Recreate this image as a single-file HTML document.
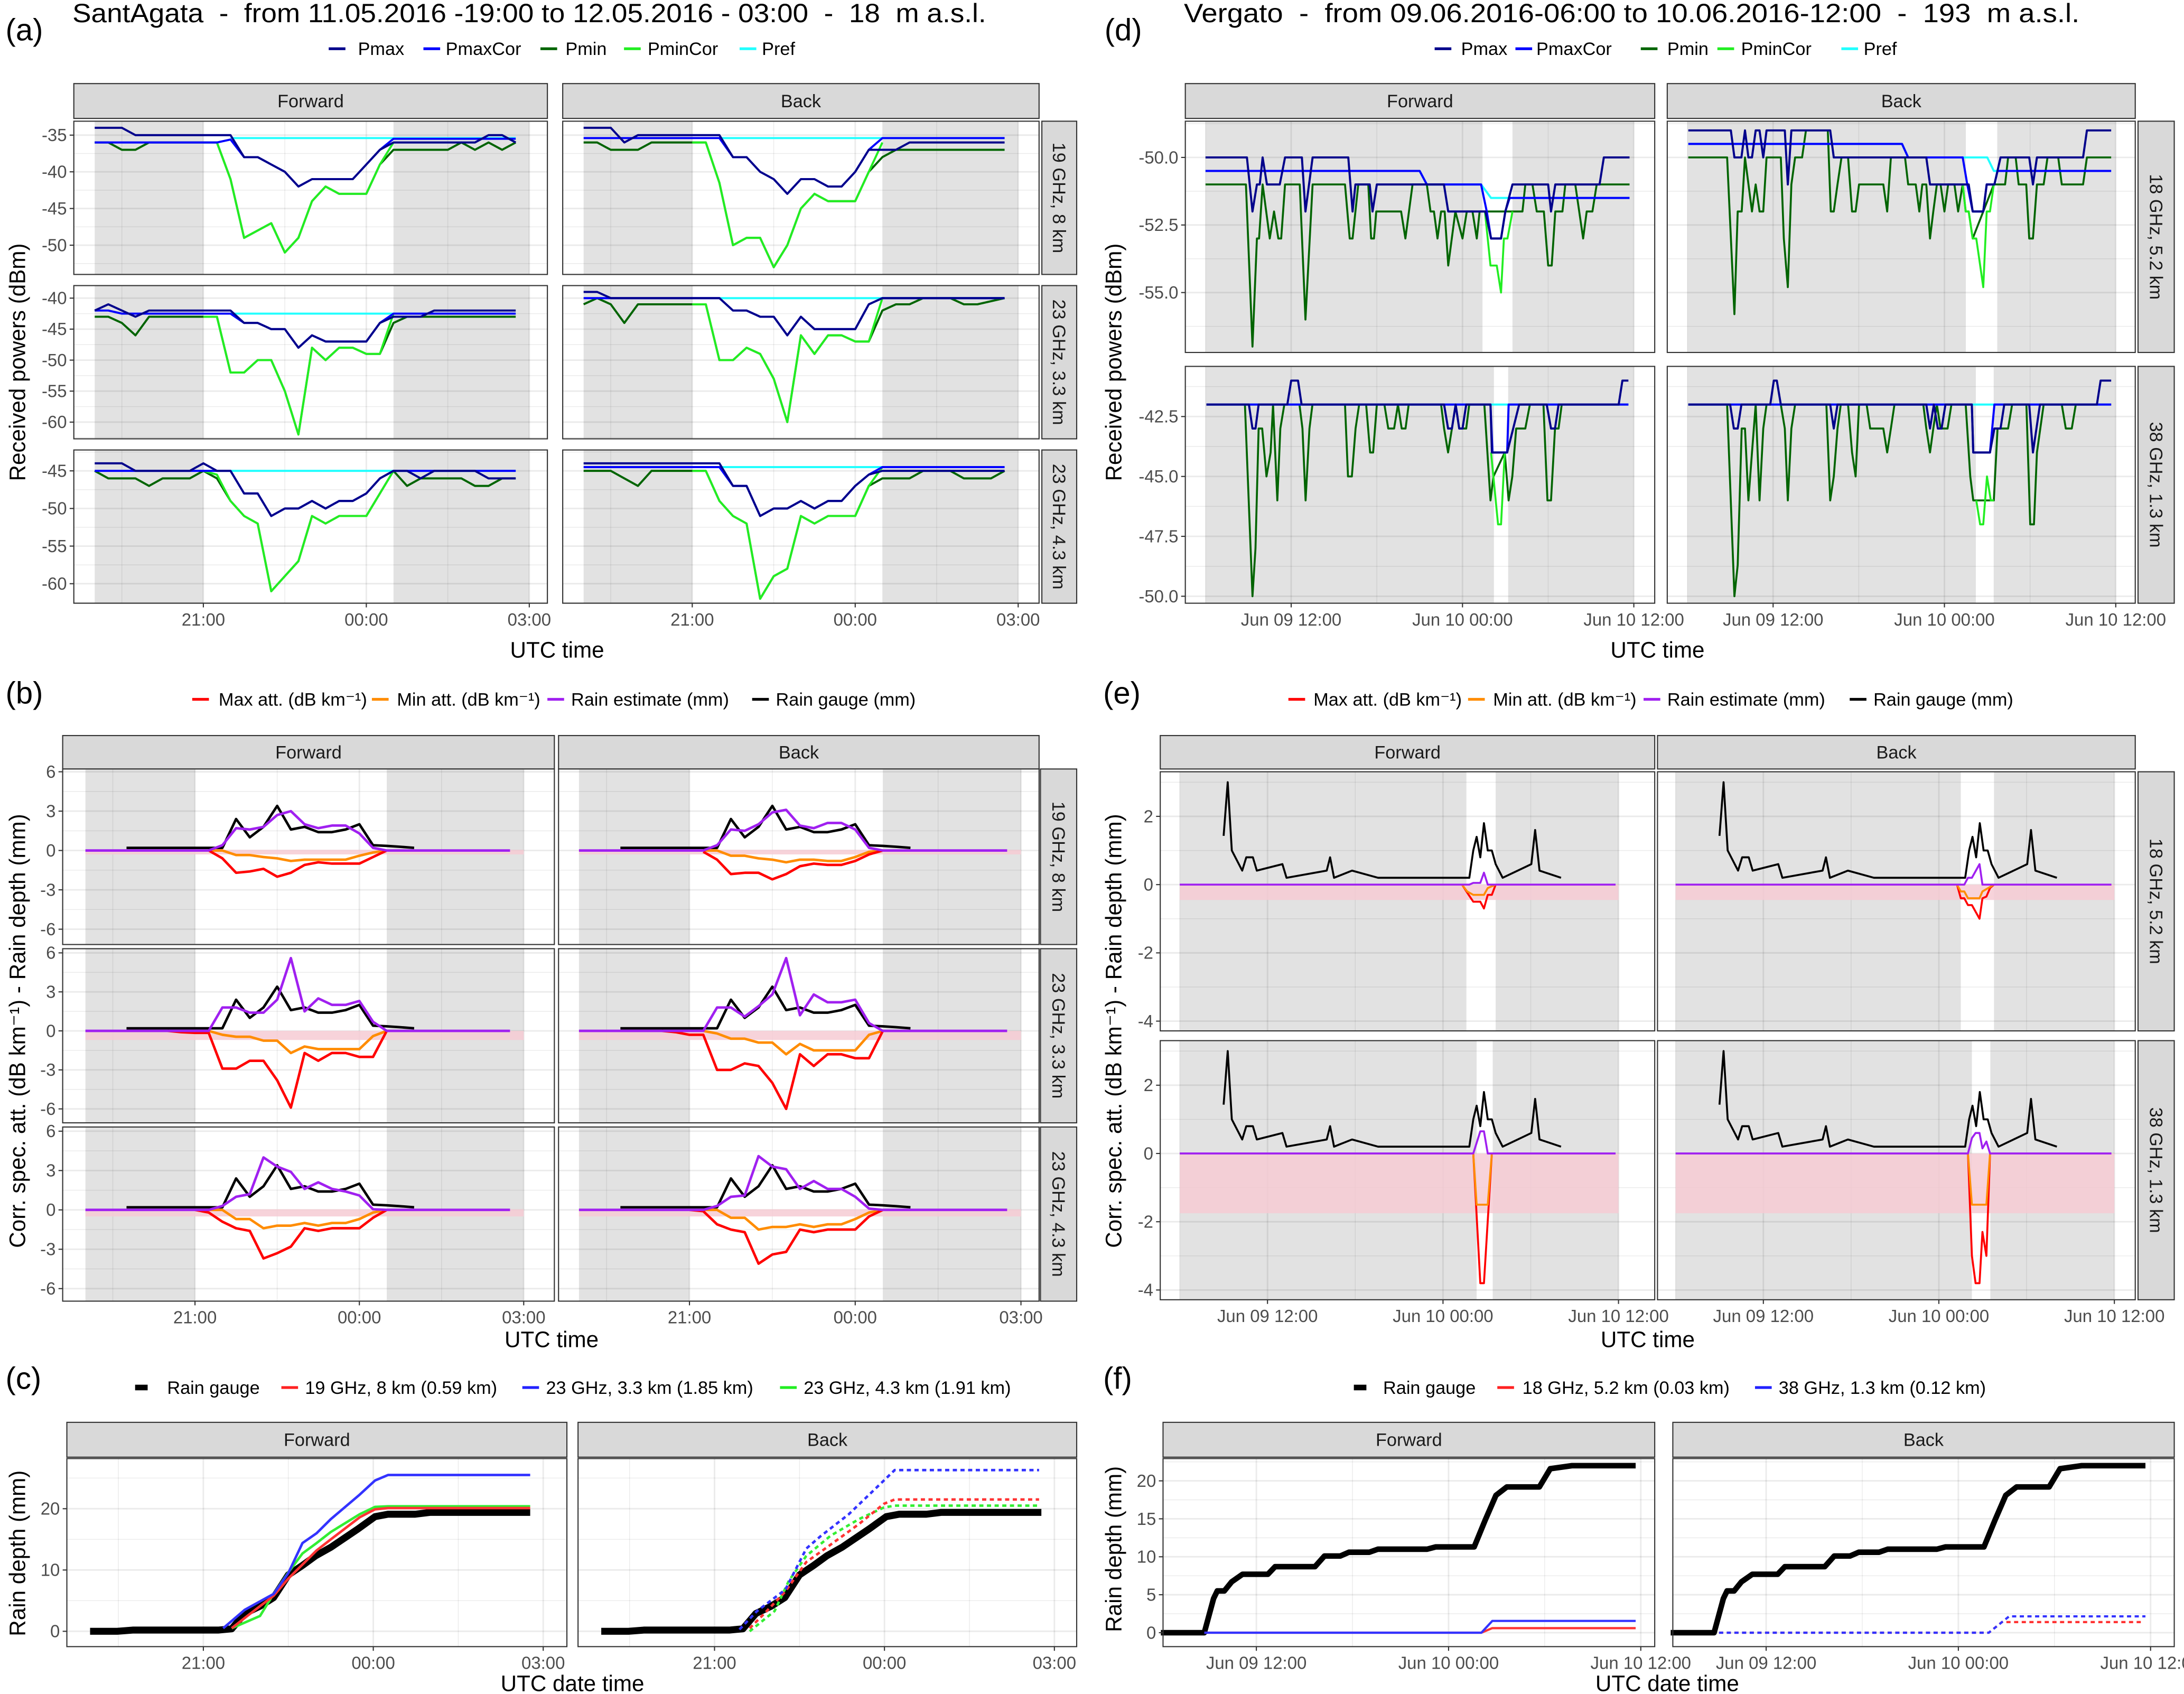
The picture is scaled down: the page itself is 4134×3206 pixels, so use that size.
<!DOCTYPE html>
<html><head><meta charset="utf-8"><title>Rain attenuation figure</title>
<style>html,body{margin:0;padding:0;background:#fff}svg{display:block}text{font-family:"Liberation Sans",sans-serif}</style>
</head><body>
<svg id="fig" width="4134" height="3206" viewBox="0 0 1568 1216" xmlns="http://www.w3.org/2000/svg"></svg>
<script>
const N=null;
/* ---------- Panel (a) : SantAgata received powers (hours after 19:00) ---------- */
const tA=[0,0.25,0.5,0.75,1,1.25,1.5,1.75,2,2.25,2.5,2.75,3,3.25,3.5,3.75,4,4.25,4.5,4.75,5,5.25,5.5,5.75,6,6.25,6.5,6.75,7,7.25,7.5,7.75];
const a1fPmax=[-34,-34,-34,-35,-35,-35,-35,-35,-35,-35,-35,-38,-38,-39,-40,-42,-41,-41,-41,-41,-39,-37,-36,-36,-36,-36,-36,-36,-36,-35,-35,-36];
const a1fPmaxCor=[-36,-36,-36,-36,-36,-36,-36,-36,-36,-36,-35.6,-38,-38,-39,-40,-42,-41,-41,-41,-41,-39,-37,-35.5,-35.5,-35.5,-35.5,-35.5,-35.5,-35.5,-35.5,-35.5,-35.5];
const a1fPmin=[-36,-36,-37,-37,-36,-36,-36,-36,-36,-36,-41,-49,-48,-47,-51,-49,-44,-42,-43,-43,-43,-39,-37,-37,-37,-37,-37,-36,-37,-36,-37,-36];
const a1fPminCor=[N,N,N,N,N,N,N,N,-36,-36,-41,-49,-48,-47,-51,-49,-44,-42,-43,-43,-43,-39,-36,N,N,N,N,N,N,N,N,N];
const a1bPmax=[-34,-34,-34,-36,-35,-35,-35,-35,-35,-35,-35,-38,-38,-40,-41,-43,-41,-41,-42,-42,-40,-37,-37,-37,-36,-36,-36,-36,-36,-36,-36,-36];
const a1bPmaxCor=[-35.4,-35.4,-35.4,-35.4,-35.4,-35.4,-35.4,-35.4,-35.4,-35.4,-35.4,-38,-38,-40,-41,-43,-41,-41,-42,-42,-40,-37,-35.4,-35.4,-35.4,-35.4,-35.4,-35.4,-35.4,-35.4,-35.4,-35.4];
const a1bPmin=[-36,-36,-37,-37,-37,-36,-36,-36,-36,-36,-41.5,-50,-49,-49,-53,-50,-45,-43,-44,-44,-44,-40,-38,-37,-37,-37,-37,-37,-37,-37,-37,-37];
const a1bPminCor=[N,N,N,N,N,N,N,N,-36,-36,-41.5,-50,-49,-49,-53,-50,-45,-43,-44,-44,-44,-40,-36,N,N,N,N,N,N,N,N,N];
const a2fPmax=[-42,-41,-42,-43,-42,-42,-42,-42,-42,-42,-42,-44,-44,-45,-45,-48,-46,-47,-47,-47,-47,-44,-43,-43,-43,-42,-42,-42,-42,-42,-42,-42];
const a2fPmaxCor=[-42,-42,-42.5,-42.5,-42.5,-42.5,-42.5,-42.5,-42.5,-42.5,-42.5,-44,-44,-45,-45,-48,-46,-47,-47,-47,-47,-44,-42.5,-42.5,-42.5,-42.5,-42.5,-42.5,-42.5,-42.5,-42.5,-42.5];
const a2fPmin=[-43,-43,-44,-46,-43,-43,-43,-43,-43,-43,-52,-52,-50,-50,-55,-62,-48,-50,-48,-48,-49,-49,-44,-43,-43,-43,-43,-43,-43,-43,-43,-43];
const a2fPminCor=[N,N,N,N,N,N,N,N,-43,-43,-52,-52,-50,-50,-55,-62,-48,-50,-48,-48,-49,-49,-42.5,N,N,N,N,N,N,N,N,N];
const a2bPmax=[-39,-39,-40,-40,-40,-40,-40,-40,-40,-40,-40,-42,-42,-43,-43,-46,-43,-45,-45,-45,-45,-41,-40,-40,-40,-40,-40,-40,-40,-40,-40,-40];
const a2bPmaxCor=[-40,-40,-40,-40,-40,-40,-40,-40,-40,-40,-40,-42,-42,-43,-43,-46,-43,-45,-45,-45,-45,-41,-40,-40,-40,-40,-40,-40,-40,-40,-40,-40];
const a2bPmin=[-41,-40,-41,-44,-41,-41,-41,-41,-41,-41,-50,-50,-48,-49,-53,-60,-46,-49,-46,-46,-47,-47,-42,-41,-41,-40,-40,-40,-41,-41,-40.5,-40];
const a2bPminCor=[N,N,N,N,N,N,N,N,-41,-41,-50,-50,-48,-49,-53,-60,-46,-49,-46,-46,-47,-47,-40,N,N,N,N,N,N,N,N,N];
const a3fPmax=[-44,-44,-44,-45,-45,-45,-45,-45,-44,-45,-45,-48,-48,-51,-50,-50,-49,-50,-49,-49,-48,-46,-45,-45,-46,-45,-45,-45,-45,-46,-46,-46];
const a3fPmaxCor=[-45,-45,-45,-45,-45,-45,-45,-45,-45,-45,-45,-48,-48,-51,-50,-50,-49,-50,-49,-49,-48,-46,-45,-45,-45,-45,-45,-45,-45,-45,-45,-45];
const a3fPmin=[-45,-46,-46,-46,-47,-46,-46,-46,-45,-46,-49,-51,-52,-61,-59,-57,-51,-52,-51,-51,-51,-48,-45,-47,-46,-46,-46,-46,-47,-47,-46,-46];
const a3fPminCor=[N,N,N,N,N,N,N,N,-45,-45.5,-49,-51,-52,-61,-59,-57,-51,-52,-51,-51,-51,-48,-45,N,N,N,N,N,N,N,N,N];
const a3bPmax=[-44,-44,-44,-44,-44,-44,-44,-44,-44,-44,-44,-47,-47,-51,-50,-50,-49,-50,-49,-49,-47,-45.5,-45,-45,-45,-45,-45,-45,-45,-45,-45,-45];
const a3bPmaxCor=[-44.5,-44.5,-44.5,-44.5,-44.5,-44.5,-44.5,-44.5,-44.5,-44.5,-44.5,-47,-47,-51,-50,-50,-49,-50,-49,-49,-47,-45.5,-44.5,-44.5,-44.5,-44.5,-44.5,-44.5,-44.5,-44.5,-44.5,-44.5];
const a3bPmin=[-45,-45,-45,-46,-47,-45,-45,-45,-45,-45,-49,-51,-52,-62,-59,-58,-51,-52,-51,-51,-51,-47,-46,-46,-46,-45,-45,-45,-46,-46,-46,-45];
const a3bPminCor=[N,N,N,N,N,N,N,N,-45,-45,-49,-51,-52,-62,-59,-58,-51,-52,-51,-51,-51,-47,-44.5,N,N,N,N,N,N,N,N,N];
const tPrefA=[2.5,7.75];
const a1fPref=[-35.4,-35.4]; const a1bPref=[-35.4,-35.4];
const a2fPref=[-42.5,-42.5]; const a2bPref=[-40,-40];
const a3fPref=[-45,-45]; const a3bPref=[-44.5,-44.5];

/* ---------- Panel (b) : attenuation / rain (same 0.25 h grid) ---------- */
const gaugeB=[N,N,N,0.2,0.2,0.2,0.2,0.2,0.2,0.2,0.2,2.4,1.0,1.8,3.4,1.6,1.8,1.4,1.4,1.6,2.0,0.4,0.35,0.28,0.2,N,N,N,N,N,N,N];
const b1fEst=[0,0,0,0,0,0,0,0,0,0,0.4,1.7,1.6,1.8,2.7,3.0,2.0,1.7,1.9,1.9,1.3,0.2,0,0,0,0,0,0,0,0,0,0];
const b1fMax=[N,N,N,N,N,N,N,N,N,0,-0.6,-1.7,-1.6,-1.4,-2.0,-1.7,-1.1,-0.9,-1.0,-1.0,-1.0,-0.5,0,N,N,N,N,N,N,N,N,N];
const b1fMin=[N,N,N,N,N,N,N,N,N,0,0,-0.35,-0.35,-0.5,-0.6,-0.8,-0.7,-0.7,-0.7,-0.7,-0.4,-0.15,0,N,N,N,N,N,N,N,N,N];
const b1bEst=[0,0,0,0,0,0,0,0,0,0,0.4,1.6,1.5,2.0,2.9,3.1,1.9,1.7,2.1,2.1,1.6,0.2,0,0,0,0,0,0,0,0,0,0];
const b1bMax=[N,N,N,N,N,N,N,N,N,-0.1,-0.7,-1.8,-1.7,-1.7,-2.2,-1.8,-1.2,-1.0,-1.1,-1.1,-0.8,-0.3,0,N,N,N,N,N,N,N,N,N];
const b1bMin=[N,N,N,N,N,N,N,N,N,0,0,-0.4,-0.4,-0.6,-0.7,-0.9,-0.7,-0.7,-0.8,-0.8,-0.5,-0.1,0,N,N,N,N,N,N,N,N,N];
const b2fEst=[0,0,0,0,0,0,0,0,0,0,1.8,1.8,1.4,1.4,2.4,5.6,1.5,2.5,2.0,2.0,2.3,0.7,0,0,0,0,0,0,0,0,0,0];
const b2fMax=[N,N,N,N,N,N,0,-0.1,-0.15,-0.15,-2.9,-2.9,-2.3,-2.3,-3.8,-5.9,-1.7,-2.3,-1.7,-1.7,-2.0,-2.0,0,N,N,N,N,N,N,N,N,N];
const b2fMin=[N,N,N,N,N,N,N,N,N,0,-0.3,-0.45,-0.45,-0.75,-0.75,-1.7,-1.2,-1.4,-1.4,-1.4,-1.4,-0.4,0,N,N,N,N,N,N,N,N,N];
const b2bEst=[0,0,0,0,0,0,0,0,0,0,1.8,1.8,1.1,1.9,2.8,5.6,1.2,2.8,2.2,2.2,2.4,0.6,0,0,0,0,0,0,0,0,0,0];
const b2bMax=[N,N,N,N,N,N,0,-0.1,-0.3,-0.3,-3.0,-3.0,-2.5,-2.7,-4.0,-6.0,-1.8,-2.7,-1.8,-1.8,-2.1,-2.1,0,N,N,N,N,N,N,N,N,N];
const b2bMin=[N,N,N,N,N,N,N,N,N,0,-0.2,-0.6,-0.6,-0.9,-0.9,-1.8,-1.0,-1.5,-1.5,-1.5,-1.5,-0.3,0,N,N,N,N,N,N,N,N,N];
const b3fEst=[0,0,0,0,0,0,0,0,0,0,0.3,1.0,1.2,4.0,3.3,2.9,1.6,2.1,1.6,1.4,1.1,0.05,0,0,0,0,0,0,0,0,0,0];
const b3fMax=[N,N,N,N,N,N,N,N,0,-0.2,-0.9,-1.4,-1.6,-3.7,-3.3,-2.8,-1.4,-1.6,-1.4,-1.4,-1.4,-0.6,0,N,N,N,N,N,N,N,N,N];
const b3fMin=[N,N,N,N,N,N,N,N,N,0,0,-0.7,-0.7,-1.4,-1.2,-1.2,-1.0,-1.2,-1.0,-1.0,-0.7,-0.2,0,N,N,N,N,N,N,N,N,N];
const b3bEst=[0,0,0,0,0,0,0,0,0,0,0.3,1.0,1.1,4.1,3.3,3.1,1.6,2.2,1.6,1.6,1.0,0.1,0,0,0,0,0,0,0,0,0,0];
const b3bMax=[N,N,N,N,N,N,N,N,0,-0.1,-1.1,-1.5,-1.7,-4.1,-3.4,-3.2,-1.5,-1.7,-1.5,-1.5,-1.5,-0.5,0,N,N,N,N,N,N,N,N,N];
const b3bMin=[N,N,N,N,N,N,N,N,N,0,0,-0.6,-0.6,-1.5,-1.3,-1.3,-1.1,-1.3,-1.1,-1.1,-0.7,-0.2,0,N,N,N,N,N,N,N,N,N];
const bandB1=[-0.3,0.05]; const bandB2=[-0.7,0]; const bandB3=[-0.5,0.05];

/* ---------- Panel (c) : cumulative rain depth ---------- */
const tCg=[0,0.48,0.75,2.26,2.5,2.73,3.0,3.24,3.5,3.75,3.98,4.25,4.49,4.73,5.03,5.26,5.74,6.0,7.77];
const cGauge=[0,0,0.2,0.2,0.4,2.9,4.1,5.5,9.2,10.75,12.3,13.7,15.2,16.7,18.7,19.1,19.1,19.4,19.4];
const tCfB=[2.35,2.73,3.24,3.5,3.75,4.0,4.25,4.76,5.03,5.26,7.77];
const cFblue=[0.5,3.5,6.1,9.5,14.4,16,18.3,22.3,24.6,25.5,25.5];
const tCfR=[2.5,2.79,3.24,3.5,3.75,4.0,4.25,4.76,5.03,5.26,7.77];
const cFred=[0.5,2.6,5.8,8.6,10.9,13.2,15.0,18.6,19.9,20.1,20.1];
const tCfG=[2.5,3.0,3.24,3.5,3.75,4.0,4.25,4.76,5.03,5.26,7.77];
const cFgreen=[0.5,2.5,6.1,9.6,12.7,14.4,16.2,19.1,20.3,20.4,20.4];
const tCbB=[2.44,2.75,3.25,3.62,3.87,4.37,4.99,5.18,7.73];
const cBblue=[0.3,3.3,6.8,13.5,15.5,19.1,24.6,26.3,26.3];
const tCbR=[2.62,2.87,3.25,3.62,4.0,4.55,4.99,5.18,7.73];
const cBred=[0.5,2.8,6.5,11.3,13.8,17.5,20.8,21.5,21.5];
const tCbG=[2.62,3.06,3.31,3.62,4.05,4.55,4.99,5.18,7.73];
const cBgreen=[0,3.3,8.2,12.3,15.6,18.3,20.2,20.5,20.5];

/* ---------- Panel (d) : Vergato received powers (hours after 09.06 06:00) ---------- */
const tD1fMin=[0,2.83,3.29,3.6,3.75,4.0,4.5,4.8,5.1,5.3,5.57,6.6,7.0,7.5,9.77,10.1,10.3,10.7,11.4,11.6,11.8,11.96,13.7,14.0,14.5,15.5,15.76,16.0,16.25,16.5,16.75,17.0,17.5,18.0,18.3,18.7,19.0,19.2,19.57,21.5,22.2,22.4,22.9,23.2,23.7,24.0,24.25,24.5,25.0,25.2,25.9,26.45,26.7,27.1,27.4,29.7];
const d1fPmin=[-51,-51,-57,-53,-53,-51,-53,-52,-53,-53,-51,-51,-56,-51,-51,-53,-53,-51,-51,-53,-53,-52,-52,-53,-51,-51,-52,-52,-53,-52,-52,-54,-52,-53,-52,-52,-53,-52,-52,-52,-52,-51,-51,-52,-52,-54,-54,-52,-52,-51,-51,-53,-52,-52,-51,-51];
const tD1fMinCor=[19.57,19.96,20.4,20.7,20.9,21.15,21.5];
const d1fPminCor=[-52,-54,-54,-55,-53,-53,-52];
const tD1fMax=[0,2.9,3.29,3.6,3.8,4.0,4.3,5.2,5.57,6.75,7.0,7.5,10.0,10.3,10.5,11.5,11.7,12.0,16.7,17.0,19.6,20.0,20.7,21.0,21.5,24.0,24.2,24.5,27.6,27.9,29.7];
const d1fPmax=[-50,-50,-52,-51,-51,-50,-51,-51,-50,-50,-52,-50,-50,-52,-51,-51,-52,-51,-51,-52,-52,-53,-53,-52,-51,-51,-52,-51,-51,-50,-50];
const tD1fMaxCor=[0,15.0,15.5,19.3,19.7,20.0,20.7,21.0,21.3,29.7];
const d1fPmaxCor=[-50.5,-50.5,-51,-51,-52,-53,-53,-52,-51.5,-51.5];
const tD1fPref=[0,15.0,15.5,19.3,20.0,29.7];
const d1fPref=[-50.5,-50.5,-51,-51,-51.5,-51.5];
const tD1bMin=[0.06,2.78,3.29,3.52,3.8,4.03,4.52,4.78,5.05,5.31,5.54,6.54,6.75,7.03,7.28,7.54,8.03,8.3,9.83,10.04,10.25,10.51,10.79,11.25,11.53,11.78,12.02,13.72,13.99,14.25,15.24,15.46,15.99,16.24,16.45,16.73,16.99,17.22,17.47,17.73,18.0,18.26,18.7,18.96,19.28,19.49,19.7,19.98,21.46,21.72,22.25,22.46,22.99,23.2,23.73,23.94,24.2,24.48,24.95,25.22,25.97,26.22,27.71,27.98,29.68];
const d1bPmin=[-50,-50,-55.8,-52,-52,-50,-52,-51,-52,-52,-50,-50,-53,-54.8,-51,-50,-50,-49,-49,-52,-52,-51,-50,-50,-52,-52,-51,-51,-52,-50,-50,-51,-51,-52,-51,-51,-53,-52,-51,-51,-52,-51,-51,-52,-51,-52,-52,-53,-51,-51,-51,-50,-50,-51,-51,-53,-53,-51,-51,-50,-50,-51,-51,-50,-50];
const tD1bMinCor=[19.28,19.49,19.7,19.98,20.23,20.45,20.72,20.96,21.19,21.46];
const d1bPminCor=[-51,-52,-52,-53,-53,-53.8,-54.8,-52,-52,-51];
const tD1bMax=[0.06,3.04,3.29,3.78,4.03,4.27,4.52,4.78,5.05,5.31,5.54,6.82,7.03,7.28,10.0,10.25,16.73,16.99,19.7,19.98,20.72,20.96,21.5,21.93,23.94,24.2,24.48,27.71,27.98,29.68];
const d1bPmax=[-49,-49,-50,-50,-49,-50,-50,-49,-49,-50,-49,-49,-51,-49,-49,-50,-50,-51,-51,-52,-52,-51,-51,-50,-50,-51,-50,-50,-49,-49];
const tD1bMaxCor=[0.06,15.03,15.46,19.28,19.6,19.98,20.72,20.96,21.5,21.72,29.68];
const d1bPmaxCor=[-49.5,-49.5,-50,-50,-51,-52,-52,-51,-51,-50.5,-50.5];
const tD1bPref=[0.06,15.03,15.46,19.28,21.0,21.46,29.68];
const d1bPref=[-49.5,-49.5,-50,-50,-50,-50.5,-50.5];
const tD2fMin=[0.06,2.76,3.29,3.5,3.72,3.97,4.27,4.56,4.73,5.03,5.24,5.52,6.58,6.79,7.01,7.28,7.49,9.77,9.98,10.25,10.51,10.76,11.25,11.53,11.74,12.0,12.53,12.8,13.21,13.48,13.74,14.01,14.23,16.5,16.71,16.99,17.26,17.52,17.77,18.26,18.47,19.53,19.96,20.17,20.96,21.23,21.49,21.76,22.4,22.72,23.67,23.95,24.2,24.48,24.73,24.95,29.62];
const d2fPmin=[-42,-42,-50,-48,-43,-43,-45,-44,-42,-46,-43,-42,-42,-43,-46,-43,-42,-42,-45,-45,-43,-42,-42,-44,-44,-42,-42,-43,-43,-42,-43,-43,-42,-42,-43,-44,-43,-42,-43,-43,-42,-42,-46,-45,-44,-46,-45,-43,-43,-42,-42,-46,-46,-43,-43,-42,-42];
const tD2fMinCor=[20.0,20.49,20.7,20.96];
const d2fPminCor=[-44,-47,-47,-44];
const tD2fMax=[0.06,3.04,3.29,3.5,3.72,5.73,6.0,6.48,6.73,16.71,16.99,17.26,17.52,17.77,18.0,18.26,19.96,20.06,21.13,21.55,21.97,23.9,24.2,24.48,24.73,28.94,29.2,29.62];
const d2fPmax=[-42,-42,-43,-43,-42,-42,-41,-41,-42,-42,-43,-43,-42,-43,-43,-42,-42,-44,-44,-43,-42,-42,-43,-43,-42,-42,-41,-41];
const tD2fMaxCor=[0.06,19.96,20.1,21.13,21.23,29.62];
const d2fPmaxCor=[-42,-42,-44,-44,-42,-42];
const tD2Pref=[0.06,29.62];
const d2fPref=[-42,-42];
const tD2bMin=[0.06,2.78,3.29,3.52,3.8,4.03,4.27,4.52,4.78,5.05,5.31,5.54,6.54,6.82,7.03,7.28,7.54,9.73,10.0,10.25,10.51,10.74,11.25,11.53,11.78,12.02,12.55,12.8,13.72,13.99,14.25,14.5,16.52,16.73,16.99,17.22,17.47,17.73,18.22,18.49,19.49,19.81,20.02,20.23,21.46,21.72,22.46,22.74,23.74,24.01,24.27,24.48,24.95,26.22,26.5,26.92,27.2,29.68];
const d2bPmin=[-42,-42,-50,-48.7,-43,-43,-46,-44,-42,-46,-43,-42,-42,-43,-46,-43,-42,-42,-46,-45,-43,-42,-42,-44,-45,-42,-42,-43,-43,-44,-43,-42,-42,-43,-44,-43,-42,-43,-43,-42,-42,-45,-46,-46,-46,-43,-43,-42,-42,-47,-47,-44,-42,-42,-43,-43,-42,-42];
const tD2bMinCor=[20.23,20.5,20.72,20.98,21.25,21.46];
const d2bPminCor=[-46,-47,-47,-45,-46,-46];
const tD2bMax=[0.06,2.99,3.25,3.52,3.78,5.8,6.05,6.26,6.54,10.0,10.25,10.51,16.73,16.99,17.26,17.54,17.8,18.07,19.92,20.02,21.19,21.5,21.93,22.19,23.94,24.2,24.69,28.68,28.94,29.68];
const d2bPmax=[-42,-42,-43,-43,-42,-42,-41,-41,-42,-42,-43,-42,-42,-43,-42,-43,-43,-42,-42,-44,-44,-43,-43,-42,-42,-44,-42,-42,-41,-41];
const tD2bMaxCor=[0.06,19.92,20.02,21.19,21.5,29.68];
const d2bPmaxCor=[-42,-42,-44,-44,-42,-42];
const d2bPref=[-42,-42];

/* ---------- Panel (e) : Vergato attenuation / rain ---------- */
const tEgauge=[3.0,3.28,3.56,4.27,4.55,5.0,5.27,7.02,7.3,10.05,10.28,10.55,11.78,13.56,19.8,20.07,20.3,20.55,20.8,21.06,21.34,21.6,22.08,24.04,24.3,24.6,26.07];
const eGauge=[1.43,3.0,1.0,0.41,0.8,0.8,0.41,0.6,0.2,0.41,0.8,0.2,0.41,0.2,0.2,1.0,1.4,0.8,1.8,1.0,1.0,0.6,0.2,0.6,1.6,0.41,0.2];
const tE1fEst=[0,19.8,20.07,20.55,20.8,21.06,29.8]; const e1fEst=[0,0,0.05,0.05,0.35,0,0];
const tE1fMax=[19.3,19.6,20.07,20.55,20.8,21.06,21.34,21.6]; const e1fMax=[0,-0.2,-0.5,-0.5,-0.7,-0.3,-0.3,0];
const tE1fMin=[19.3,19.65,20.07,20.8,21.06,21.6]; const e1fMin=[0,-0.2,-0.3,-0.3,-0.1,0];
const tE2fEst=[0,20.07,20.55,20.8,21.06,29.8]; const e2fEst=[0,0,0.65,0.65,0,0];
const tE2fMax=[20.07,20.55,20.8,21.34]; const e2fMax=[0,-3.8,-3.8,0];
const tE2fMin=[20.07,20.3,21.06,21.34]; const e2fMin=[0,-1.5,-1.5,0];
const tE1bEst=[0,19.74,19.99,20.26,20.78,20.98,29.8]; const e1bEst=[0,0,0.2,0.2,0.6,0,0];
const tE1bMax=[19.24,19.5,19.74,19.99,20.26,20.78,20.98,21.25,21.5,21.77]; const e1bMax=[0,-0.4,-0.4,-0.6,-0.6,-1.0,-0.4,-0.35,-0.1,0];
const tE1bMin=[19.24,19.5,19.74,19.99,20.78,20.98,21.77]; const e1bMin=[0,-0.2,-0.2,-0.4,-0.4,-0.2,0];
const tE2bEst=[0,19.99,20.26,20.51,20.78,20.98,21.25,21.5,29.8]; const e2bEst=[0,0,0.45,0.6,0.6,0.15,0.35,0,0];
const tE2bMax=[19.99,20.26,20.51,20.78,20.98,21.25,21.5]; const e2bMax=[0,-3.0,-3.8,-3.8,-2.3,-3.0,0];
const tE2bMin=[19.99,20.26,21.25,21.5]; const e2bMin=[0,-1.5,-1.5,0];
const bandE1=[-0.45,0]; const bandE2=[-1.75,0];

/* ---------- Panel (f) : Vergato cumulative ---------- */
const tFg=[0.04,2.75,3.33,3.56,4.0,4.46,5.14,6.72,7.17,9.66,10.25,11.24,11.78,13.05,13.59,16.66,17.2,19.6,20.28,20.96,21.64,23.67,24.35,25.7,29.68];
const fGauge=[0,0,4.5,5.5,5.5,6.7,7.7,7.7,8.7,8.7,10.1,10.1,10.6,10.6,11.0,11.0,11.3,11.3,14.8,18.1,19.2,19.2,21.6,22.0,22.0];
const tFf=[2.75,20.05,20.73,29.68];
const fFred=[0,0,0.6,0.6];
const fFblue=[0,0,1.55,1.55];
const tFbR=[3.06,19.9,20.72,29.55]; const fBred=[0,0,1.4,1.4];
const tFbB=[3.06,19.9,21.17,29.68]; const fBblue=[0,0,2.15,2.15];

/* ---------------- drawing ---------------- */
const NS='http://www.w3.org/2000/svg';
const svg=document.getElementById('fig');
function lin(d0,d1,p0,p1){return v=>p0+(v-d0)*(p1-p0)/(d1-d0);}
function mk(tag,parent,attrs){const e=document.createElementNS(NS,tag);for(const k in attrs)e.setAttribute(k,attrs[k]);parent.appendChild(e);return e;}
function txt(parent,name,x,y,s,size,anchor,rot,color){
  const e=mk('text',parent,{x:x,y:y,'font-size':size,'text-anchor':anchor||'start',fill:color||'#000'});
  if(rot)e.setAttribute('transform','rotate('+rot+' '+x+' '+y+')');
  e.textContent=s;
  
  
  return e;
}
function pathD(t,v,xs,ys){let d='',pen=false;for(let i=0;i<t.length;i++){if(v[i]==null||t[i]==null){pen=false;continue;}d+=(pen?'L':'M')+xs(t[i]).toFixed(2)+' '+ys(v[i]).toFixed(2);pen=true;}return d;}

function drawCell(g,c,r,o,cellName){
  const cg=mk('g',g,{});
  
  
  mk('rect',cg,{x:c.x0,y:r.y0,width:c.x1-c.x0,height:r.y1-r.y0,fill:'#fff'});
  (o.gray||[]).forEach(gr=>{
    const xa=Math.max(c.x0,c.xs(gr[0])),xb=Math.min(c.x1,c.xs(gr[1]));
    const sh=mk('rect',cg,{x:xa,y:r.y0,width:xb-xa,height:r.y1-r.y0,fill:'#e2e2e2'});
    
    
  });
  const tk=r.ticks, st=Math.abs(tk[1]-tk[0]);
  const lo=Math.min(...tk)-st, hi=Math.max(...tk)+st;
  for(let v=lo;v<=hi+1e-9;v+=st/2){const y=r.ys(v);if(y<r.y0+0.5||y>r.y1-0.5)continue;
    const major=Math.abs(((v-tk[0])/st)-Math.round((v-tk[0])/st))<1e-6;
    mk('line',cg,{x1:c.x0,x2:c.x1,y1:y,y2:y,stroke:'rgba(0,0,0,0.08)','stroke-width':major?1.1:0.55});}
  o.xMaj.forEach(v=>{const x=c.xs(v);if(x>c.x0&&x<c.x1)mk('line',cg,{x1:x,x2:x,y1:r.y0,y2:r.y1,stroke:'rgba(0,0,0,0.08)','stroke-width':1.1});});
  o.xMin.forEach(v=>{const x=c.xs(v);if(x>c.x0&&x<c.x1)mk('line',cg,{x1:x,x2:x,y1:r.y0,y2:r.y1,stroke:'rgba(0,0,0,0.08)','stroke-width':0.55});});
  if(o.band){const xa=c.xs(o.band.t0),xb=c.xs(o.band.t1);const ya=r.ys(o.band.v[1]),yb=r.ys(o.band.v[0]);
    const b=mk('rect',cg,{x:xa,y:ya,width:xb-xa,height:yb-ya,fill:'#f6cbd4','fill-opacity':0.85});
    
    }
  o.series.forEach(s=>{
    const p=mk('path',cg,{d:pathD(s.t,s.v,c.xs,r.ys),fill:'none',stroke:s.c,'stroke-width':s.w||1.5,'stroke-linejoin':'round'});
    if(s.dash)p.setAttribute('stroke-dasharray',s.dash);
    
    
  });
  mk('rect',cg,{x:c.x0,y:r.y0,width:c.x1-c.x0,height:r.y1-r.y0,fill:'none',stroke:'#333','stroke-width':0.8});
}

function block(B){
  const g=mk('g',svg,{});
  
  
  B.cols.forEach((c,ci)=>{
    const s=mk('rect',g,{x:c.x0,y:B.stripY[0],width:c.x1-c.x0,height:B.stripY[1]-B.stripY[0],fill:'#d9d9d9',stroke:'#333','stroke-width':0.8});
    
    
    txt(g,'facet-label',(c.x0+c.x1)/2,(B.stripY[0]+B.stripY[1])/2+4.5,['Forward','Back'][ci],13,'middle',0,'#1a1a1a');
  });
  B.rows.forEach((r,ri)=>{
    if(B.rstrip){
      const s=mk('rect',g,{x:B.rstrip[0],y:r.y0,width:B.rstrip[1]-B.rstrip[0],height:r.y1-r.y0,fill:'#d9d9d9',stroke:'#333','stroke-width':0.8});
      
      
      const cx=(B.rstrip[0]+B.rstrip[1])/2-4.5, cy=(r.y0+r.y1)/2;
      txt(g,'row-label',cx,cy,B.rowLabels[ri],13,'middle',90,'#1a1a1a');
    }
    B.cols.forEach((c,ci)=>{drawCell(g,c,r,B.cells[ri][ci],'panel-'+['forward','back'][ci]+'-'+(ri+1));});
    const c0=B.cols[0];
    r.ticks.forEach(v=>{const y=r.ys(v);
      mk('line',g,{x1:c0.x0-3,x2:c0.x0,y1:y,y2:y,stroke:'#333','stroke-width':0.8});
      txt(g,'y-tick-label',c0.x0-5,y+4.3,B.yfmt(v),12.5,'end',0,'#4d4d4d');});
  });
  const rl=B.rows[B.rows.length-1];
  B.cols.forEach(c=>{B.xTicks.forEach((v,i)=>{const x=c.xs(v);
    mk('line',g,{x1:x,x2:x,y1:rl.y1,y2:rl.y1+3,stroke:'#333','stroke-width':0.8});
    txt(g,'x-tick-label',x,rl.y1+16,B.xLabels[i],12.5,'middle',0,'#4d4d4d');});});
  txt(g,'x-axis-title',B.xTitle[0],B.xTitle[1],B.xTitle[2],16,'middle',0,'#000');
  txt(g,'y-axis-title',B.yTitle[0],B.yTitle[1],B.yTitle[2],16,'middle',-90,'#000');
}

function legend(name,items,y){
  const g=mk('g',svg,{});
  
  
  items.forEach(it=>{
    const l=mk('line',g,{x1:it.x,x2:it.x+(it.w>2?9:12),y1:y,y2:y,stroke:it.c,'stroke-width':it.w||2});
    
    
    txt(g,'legend-entry',it.tx,y+4.5,it.s,13,'start',0,'#000');
  });
}

const C_PMAX='#00008b',C_PMAXC='#0000ff',C_PMIN='#006400',C_PMINC='#22ee22',C_PREF='#22ffff';
const C_MAX='#ff0000',C_MIN='#ff8c00',C_EST='#a020f0',C_G='#000';
function aSeries(pmax,pmaxc,pmin,pminc,pref){return [
  {n:'pmin-line',t:tA,v:pmin,c:C_PMIN},{n:'pmincor-line',t:tA,v:pminc,c:C_PMINC},
  {n:'pref-line',t:tPrefA,v:pref,c:C_PREF},{n:'pmaxcor-line',t:tA,v:pmaxc,c:C_PMAXC},{n:'pmax-line',t:tA,v:pmax,c:C_PMAX}];}
const grayA=[[0,2],[5.5,8]];
const hrs=['21:00','00:00','03:00'];
block({name:'panel-a',stripY:[60,85],rstrip:[748,773],rowLabels:['19 GHz, 8 km','23 GHz, 3.3 km','23 GHz, 4.3 km'],
  cols:[{x0:53,x1:393,xs:lin(2,5,146,263)},{x0:404,x1:746,xs:lin(2,5,497,614)}],
  rows:[{y0:87,y1:197,ys:lin(-35,-50,97,176),ticks:[-35,-40,-45,-50]},{y0:205,y1:315,ys:lin(-40,-60,214,303),ticks:[-40,-45,-50,-55,-60]},{y0:323,y1:433,ys:lin(-45,-60,338,419),ticks:[-45,-50,-55,-60]}],
  xTicks:[2,5,8],xLabels:hrs,yfmt:v=>String(v),xTitle:[400,472,'UTC time'],yTitle:[18,260,'Received powers (dBm)'],
  cells:[[{gray:grayA,xMaj:[2,5,8],xMin:[0.5,3.5,6.5],series:aSeries(a1fPmax,a1fPmaxCor,a1fPmin,a1fPminCor,a1fPref)},{gray:grayA,xMaj:[2,5,8],xMin:[0.5,3.5,6.5],series:aSeries(a1bPmax,a1bPmaxCor,a1bPmin,a1bPminCor,a1bPref)}],
         [{gray:grayA,xMaj:[2,5,8],xMin:[0.5,3.5,6.5],series:aSeries(a2fPmax,a2fPmaxCor,a2fPmin,a2fPminCor,a2fPref)},{gray:grayA,xMaj:[2,5,8],xMin:[0.5,3.5,6.5],series:aSeries(a2bPmax,a2bPmaxCor,a2bPmin,a2bPminCor,a2bPref)}],
         [{gray:grayA,xMaj:[2,5,8],xMin:[0.5,3.5,6.5],series:aSeries(a3fPmax,a3fPmaxCor,a3fPmin,a3fPminCor,a3fPref)},{gray:grayA,xMaj:[2,5,8],xMin:[0.5,3.5,6.5],series:aSeries(a3bPmax,a3bPmaxCor,a3bPmin,a3bPminCor,a3bPref)}]]});

function bSeries(mx,mn,est){return [{n:'rain-gauge-line',t:tA,v:gaugeB,c:C_G,w:1.8},{n:'min-att-line',t:tA,v:mn,c:C_MIN,w:1.8},{n:'max-att-line',t:tA,v:mx,c:C_MAX,w:1.8},{n:'rain-estimate-line',t:tA,v:est,c:C_EST,w:1.8}];}
function bc(mx,mn,est,band){return {gray:grayA,xMaj:[2,5,8],xMin:[0.5,3.5,6.5],band:{t0:0,t1:8,v:band},series:bSeries(mx,mn,est)};}
block({name:'panel-b',stripY:[528,552],rstrip:[747,773],rowLabels:['19 GHz, 8 km','23 GHz, 3.3 km','23 GHz, 4.3 km'],
  cols:[{x0:45,x1:398,xs:lin(2,5,140,258)},{x0:401,x1:746,xs:lin(2,5,495,614)}],
  rows:[{y0:552,y1:678,ys:lin(6,-6,554,667),ticks:[6,3,0,-3,-6]},{y0:681,y1:806,ys:lin(6,-6,684,796),ticks:[6,3,0,-3,-6]},{y0:809,y1:934,ys:lin(6,-6,812,925),ticks:[6,3,0,-3,-6]}],
  xTicks:[2,5,8],xLabels:hrs,yfmt:v=>String(v),xTitle:[396,967,'UTC time'],yTitle:[18,740,'Corr. spec. att. (dB km\u207B\u00B9) - Rain depth (mm)'],
  cells:[[bc(b1fMax,b1fMin,b1fEst,bandB1),bc(b1bMax,b1bMin,b1bEst,bandB1)],[bc(b2fMax,b2fMin,b2fEst,bandB2),bc(b2bMax,b2bMin,b2bEst,bandB2)],[bc(b3fMax,b3fMin,b3fEst,bandB3),bc(b3bMax,b3bMin,b3bEst,bandB3)]]});

block({name:'panel-c',stripY:[1021,1046],rstrip:null,
  cols:[{x0:48,x1:407,xs:lin(2,5,146,268)},{x0:415,x1:773,xs:lin(2,5,513,635)}],
  rows:[{y0:1047,y1:1182,ys:lin(0,20,1171,1083),ticks:[0,10,20]}],
  xTicks:[2,5,8],xLabels:hrs,yfmt:v=>String(v),xTitle:[411,1214,'UTC  date time'],yTitle:[18,1115,'Rain depth (mm)'],
  cells:[[{xMaj:[2,5,8],xMin:[0.5,3.5,6.5],series:[{n:'rain-gauge-cumulative',t:tCg,v:cGauge,c:'#000',w:5},{n:'link-23ghz-4.3km',t:tCfG,v:cFgreen,c:'#33ee33',w:1.8},{n:'link-19ghz-8km',t:tCfR,v:cFred,c:'#ff3333',w:1.8},{n:'link-23ghz-3.3km',t:tCfB,v:cFblue,c:'#3333ff',w:1.8}]},
          {xMaj:[2,5,8],xMin:[0.5,3.5,6.5],series:[{n:'rain-gauge-cumulative',t:tCg,v:cGauge,c:'#000',w:5},{n:'link-23ghz-4.3km',t:tCbG,v:cBgreen,c:'#33ee33',w:1.8,dash:'3 2.5'},{n:'link-19ghz-8km',t:tCbR,v:cBred,c:'#ff3333',w:1.8,dash:'3 2.5'},{n:'link-23ghz-3.3km',t:tCbB,v:cBblue,c:'#3333ff',w:1.8,dash:'3 2.5'}]}]]});

const jun=['Jun 09 12:00','Jun 10 00:00','Jun 10 12:00'];
function dSer(tMin,pmin,tMinC,pminc,tPref,pref,tMaxC,pmaxc,tMax,pmax){return [
  {n:'pmin-line',t:tMin,v:pmin,c:C_PMIN,w:1.4},{n:'pmincor-line',t:tMinC,v:pminc,c:C_PMINC,w:1.4},{n:'pref-line',t:tPref,v:pref,c:C_PREF,w:1.5},
  {n:'pmaxcor-line',t:tMaxC,v:pmaxc,c:C_PMAXC,w:1.5},{n:'pmax-line',t:tMax,v:pmax,c:C_PMAX,w:1.5}];}
block({name:'panel-d',stripY:[60,85],rstrip:[1535,1561],rowLabels:['18 GHz, 5.2 km','38 GHz, 1.3 km'],
  cols:[{x0:851,x1:1188,xs:lin(6,18,927,1050)},{x0:1197,x1:1533,xs:lin(6,18,1273,1396)}],
  rows:[{y0:87,y1:253,ys:lin(-50,-55,113,210),ticks:[-50,-52.5,-55]},{y0:263,y1:433,ys:lin(-42.5,-50,299,428),ticks:[-42.5,-45,-47.5,-50]}],
  xTicks:[6,18,30],xLabels:jun,yfmt:v=>v.toFixed(1),xTitle:[1190,472,'UTC time'],yTitle:[805,260,'Received powers (dBm)'],
  cells:[[{gray:[[0,19.4],[21.5,30]],xMaj:[6,18,30],xMin:[0,12,24],series:dSer(tD1fMin,d1fPmin,tD1fMinCor,d1fPminCor,tD1fPref,d1fPref,tD1fMaxCor,d1fPmaxCor,tD1fMax,d1fPmax)},
          {gray:[[0,19.5],[21.7,30]],xMaj:[6,18,30],xMin:[0,12,24],series:dSer(tD1bMin,d1bPmin,tD1bMinCor,d1bPminCor,tD1bPref,d1bPref,tD1bMaxCor,d1bPmaxCor,tD1bMax,d1bPmax)}],
         [{gray:[[0,20.2],[21.2,30]],xMaj:[6,18,30],xMin:[0,12,24],series:dSer(tD2fMin,d2fPmin,tD2fMinCor,d2fPminCor,tD2Pref,d2fPref,tD2fMaxCor,d2fPmaxCor,tD2fMax,d2fPmax)},
          {gray:[[0,20.2],[21.45,30]],xMaj:[6,18,30],xMin:[0,12,24],series:dSer(tD2bMin,d2bPmin,tD2bMinCor,d2bPminCor,tD2Pref,d2bPref,tD2bMaxCor,d2bPmaxCor,tD2bMax,d2bPmax)}]]});

function eSer(tMx,mx,tMn,mn,tEs,es){return [{n:'rain-gauge-line',t:tEgauge,v:eGauge,c:C_G,w:1.4},{n:'max-att-line',t:tMx,v:mx,c:C_MAX,w:1.4},{n:'min-att-line',t:tMn,v:mn,c:C_MIN,w:1.4},{n:'rain-estimate-line',t:tEs,v:es,c:C_EST,w:1.4}];}
block({name:'panel-e',stripY:[528,552],rstrip:[1535,1561],rowLabels:['18 GHz, 5.2 km','38 GHz, 1.3 km'],
  cols:[{x0:833,x1:1188,xs:lin(6,18,910,1036)},{x0:1190,x1:1533,xs:lin(6,18,1266,1392)}],
  rows:[{y0:554,y1:740,ys:lin(2,-4,586,733),ticks:[2,0,-2,-4]},{y0:747,y1:933,ys:lin(2,-4,779,926),ticks:[2,0,-2,-4]}],
  xTicks:[6,18,30],xLabels:jun,yfmt:v=>String(v),xTitle:[1183,967,'UTC time'],yTitle:[805,740,'Corr. spec. att. (dB km\u207B\u00B9) - Rain depth (mm)'],
  cells:[[{gray:[[0,19.6],[21.6,30]],xMaj:[6,18,30],xMin:[0,12,24],band:{t0:0,t1:30,v:bandE1},series:eSer(tE1fMax,e1fMax,tE1fMin,e1fMin,tE1fEst,e1fEst)},
          {gray:[[0,19.5],[21.77,30]],xMaj:[6,18,30],xMin:[0,12,24],band:{t0:0,t1:30,v:bandE1},series:eSer(tE1bMax,e1bMax,tE1bMin,e1bMin,tE1bEst,e1bEst)}],
         [{gray:[[0,20.3],[21.4,30]],xMaj:[6,18,30],xMin:[0,12,24],band:{t0:0,t1:30,v:bandE2},series:eSer(tE2fMax,e2fMax,tE2fMin,e2fMin,tE2fEst,e2fEst)},
          {gray:[[0,20.26],[21.52,30]],xMaj:[6,18,30],xMin:[0,12,24],band:{t0:0,t1:30,v:bandE2},series:eSer(tE2bMax,e2bMax,tE2bMin,e2bMin,tE2bEst,e2bEst)}]]});

block({name:'panel-f',stripY:[1021,1046],rstrip:null,
  cols:[{x0:835,x1:1188,xs:lin(6,18,902,1040)},{x0:1201,x1:1561,xs:lin(6,18,1268,1406)}],
  rows:[{y0:1047,y1:1182,ys:lin(0,20,1172,1063),ticks:[0,5,10,15,20]}],
  xTicks:[6,18,30],xLabels:jun,yfmt:v=>String(v),xTitle:[1197,1214,'UTC  date time'],yTitle:[805,1112,'Rain depth (mm)'],
  cells:[[{xMaj:[6,18,30],xMin:[0,12,24],series:[{n:'rain-gauge-cumulative',t:tFg,v:fGauge,c:'#000',w:4},{n:'link-18ghz-5.2km',t:tFf,v:fFred,c:'#ff3333',w:1.6},{n:'link-38ghz-1.3km',t:tFf,v:fFblue,c:'#3333ff',w:1.6}]},
          {xMaj:[6,18,30],xMin:[0,12,24],series:[{n:'rain-gauge-cumulative',t:tFg,v:fGauge,c:'#000',w:4},{n:'link-18ghz-5.2km',t:tFbR,v:fBred,c:'#ff3333',w:1.6,dash:'3 2.5'},{n:'link-38ghz-1.3km',t:tFbB,v:fBblue,c:'#3333ff',w:1.6,dash:'3 2.5'}]}]]});

/* titles, labels, legends */
const S='\u00A0';
txt(svg,'panel-label-a',4,29,'(a)',22);
const ta=txt(svg,'panel-title-a',52,16,'SantAgata'+S+S+'-'+S+S+'from 11.05.2016 -19:00 to 12.05.2016 - 03:00'+S+S+'-'+S+S+'18'+S+S+'m a.s.l.',19);
ta.setAttribute('textLength','656'); ta.setAttribute('lengthAdjust','spacingAndGlyphs');
txt(svg,'panel-label-d',793,29,'(d)',22);
const td=txt(svg,'panel-title-d',850,16,'Vergato'+S+S+'-'+S+S+'from 09.06.2016-06:00 to 10.06.2016-12:00'+S+S+'-'+S+S+'193'+S+S+'m a.s.l.',19);
td.setAttribute('textLength','643'); td.setAttribute('lengthAdjust','spacingAndGlyphs');
txt(svg,'panel-label-b',4,505,'(b)',22);
txt(svg,'panel-label-e',792,505,'(e)',22);
txt(svg,'panel-label-c',4,997,'(c)',22);
txt(svg,'panel-label-f',792,997,'(f)',22);
legend('legend-a',[{x:236,tx:257,c:C_PMAX,s:'Pmax'},{x:304,tx:320,c:C_PMAXC,s:'PmaxCor'},{x:388,tx:406,c:C_PMIN,s:'Pmin'},{x:448,tx:465,c:C_PMINC,s:'PminCor'},{x:531,tx:547,c:C_PREF,s:'Pref'}],35);
legend('legend-d',[{x:1030,tx:1049,c:C_PMAX,s:'Pmax'},{x:1088,tx:1103,c:C_PMAXC,s:'PmaxCor'},{x:1178,tx:1197,c:C_PMIN,s:'Pmin'},{x:1233,tx:1250,c:C_PMINC,s:'PminCor'},{x:1322,tx:1338,c:C_PREF,s:'Pref'}],35);
legend('legend-b',[{x:138,tx:157,c:C_MAX,s:'Max att. (dB km\u207B\u00B9)'},{x:267,tx:285,c:C_MIN,s:'Min att. (dB km\u207B\u00B9)'},{x:393,tx:410,c:C_EST,s:'Rain estimate (mm)'},{x:540,tx:557,c:C_G,s:'Rain gauge (mm)'}],502);
legend('legend-e',[{x:925,tx:943,c:C_MAX,s:'Max att. (dB km\u207B\u00B9)'},{x:1054,tx:1072,c:C_MIN,s:'Min att. (dB km\u207B\u00B9)'},{x:1180,tx:1197,c:C_EST,s:'Rain estimate (mm)'},{x:1328,tx:1345,c:C_G,s:'Rain gauge (mm)'}],502);
legend('legend-c',[{x:97,tx:120,c:'#000',s:'Rain gauge',w:4},{x:202,tx:219,c:'#ff2222',s:'19 GHz, 8 km (0.59 km)'},{x:375,tx:392,c:'#2222ff',s:'23 GHz, 3.3 km (1.85 km)'},{x:560,tx:577,c:'#22ee22',s:'23 GHz, 4.3 km (1.91 km)'}],996);
legend('legend-f',[{x:972,tx:993,c:'#000',s:'Rain gauge',w:4},{x:1075,tx:1093,c:'#ff2222',s:'18 GHz, 5.2 km (0.03 km)'},{x:1260,tx:1277,c:'#2222ff',s:'38 GHz, 1.3 km (0.12 km)'}],996);
</script>
</body></html>
